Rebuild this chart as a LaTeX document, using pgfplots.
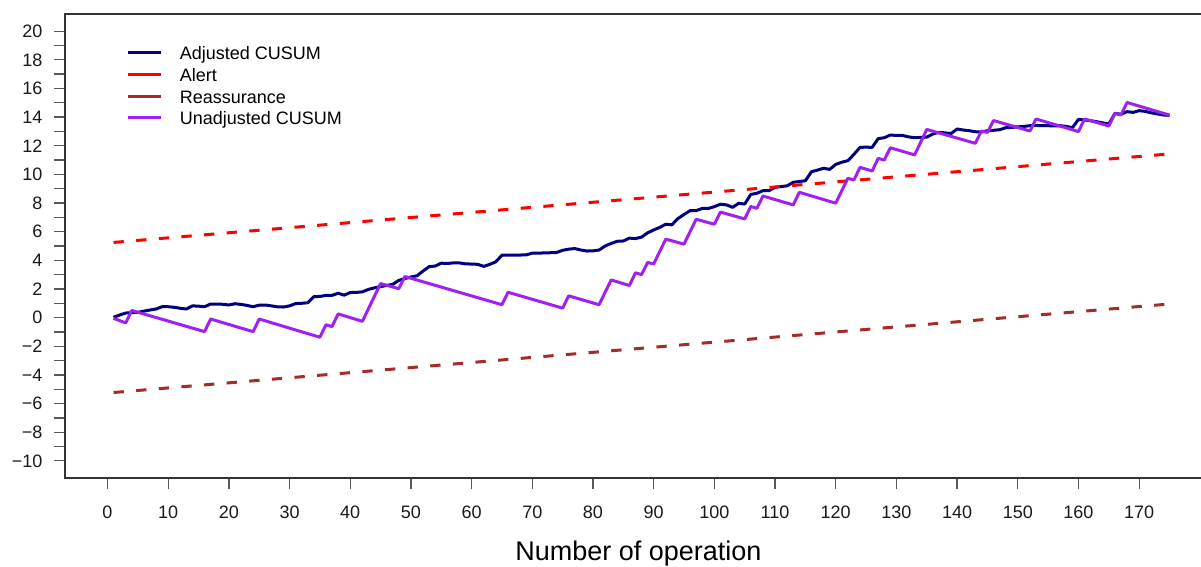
\documentclass[border=0pt]{standalone}
\usepackage{fontspec}
\setmainfont{Liberation Sans}
\usepackage{pgfplots}
\pgfplotsset{compat=1.18}
\definecolor{cnavy}{RGB}{0,0,128}
\definecolor{cred}{RGB}{255,0,0}
\definecolor{cbrown}{RGB}{165,42,42}
\definecolor{cpurple}{RGB}{160,32,240}
\begin{document}
\begin{tikzpicture}
\path[use as bounding box] (-65pt,-88pt) rectangle (1136pt,478pt);
\begin{axis}[
  scale only axis, width=1147pt, height=464pt,
  at={(0pt,0pt)}, anchor=south west,
  xmin=-7, xmax=182, ymin=-11.2, ymax=21.2,
  axis line style={black!80, line width=1.2pt},
  tick align=outside, tick pos=left,
  major tick length=11pt, minor tick length=11pt,
  every tick/.style={black!65, line width=1.3pt},
  xtick={0,10,20,30,40,50,60,70,80,90,100,110,120,130,140,150,160,170},
  xticklabels={0,10,20,30,40,50,60,70,80,90,100,110,120,130,140,150,160,170},
  ytick={-10,-8,-6,-4,-2,0,2,4,6,8,10,12,14,16,18,20},
  minor ytick={-9,-7,-5,-3,-1,1,3,5,7,9,11,13,15,17,19},
  yticklabels={−10,−8,−6,−4,−2,0,2,4,6,8,10,12,14,16,18,20},
  xticklabel style={font=\fontsize{18}{20}\selectfont, text=black!90, yshift=-13pt},
  yticklabel style={font=\fontsize{18}{20}\selectfont, text=black!90, xshift=-8pt},
  xlabel={Number of operation},
  xlabel style={font=\fontsize{27}{30}\selectfont, at={(axis description cs:0.5,0)}, anchor=base, yshift=-82pt, inner sep=0pt},
  legend style={at={(axis description cs:0.054,0.94)}, anchor=north west, draw=none, fill=none,
    inner sep=0pt, outer sep=0pt, row sep=0pt, column sep=17pt,
    font=\fontsize{18}{20}\selectfont,
    nodes={inner xsep=0pt, inner ysep=3.85pt, text height=14pt, text depth=0pt}},
  legend cell align=left,
  legend image code/.code={\draw[#1,solid] (0pt,0pt) -- (33pt,0pt);},
]
\addplot[cnavy, line width=3pt, line join=round] coordinates {
(1,0.02)(2,0.18)(3,0.32)(5,0.37)(6,0.45)(7,0.53)(8,0.6)(9,0.76)(10,0.76)
(11,0.72)(12,0.65)(13,0.6)(14,0.82)(15,0.8)(16,0.76)(17,0.95)(18,0.95)(19,0.93)(20,0.88)
(21,0.97)(22,0.92)(23,0.85)(24,0.76)(25,0.87)(26,0.88)(27,0.82)(28,0.75)(29,0.74)(30,0.82)
(31,0.98)(32,1.0)(33,1.04)(34,1.46)(35,1.48)(36,1.55)(37,1.55)(38,1.7)(39,1.57)(40,1.75)
(41,1.76)(42,1.8)(43,1.97)(44,2.08)(45,2.16)(46,2.25)(47,2.32)(48,2.6)(49,2.72)(50,2.84)
(51,2.92)(52,3.25)(53,3.56)(54,3.6)(55,3.8)(56,3.78)(57,3.82)(58,3.82)(59,3.75)(60,3.74)
(61,3.72)(62,3.58)(63,3.72)(64,3.9)(65,4.36)(66,4.37)(67,4.37)(68,4.37)(69,4.38)(70,4.5)
(71,4.5)(72,4.52)(73,4.53)(74,4.55)(75,4.7)(76,4.78)(77,4.82)(78,4.72)(79,4.65)(80,4.66)
(81,4.72)(82,5.0)(83,5.18)(84,5.33)(85,5.35)(86,5.55)(87,5.52)(88,5.62)(89,5.92)(90,6.12)
(91,6.3)(92,6.52)(93,6.48)(94,6.92)(95,7.2)(96,7.47)(97,7.47)(98,7.62)(99,7.62)(100,7.75)
(101,7.92)(102,7.87)(103,7.7)(104,7.98)(105,7.93)(106,8.6)(107,8.68)(108,8.86)(109,8.86)(110,9.1)
(111,9.15)(112,9.2)(113,9.45)(114,9.5)(115,9.56)(116,10.19)(117,10.3)(118,10.43)(119,10.35)(120,10.7)
(121,10.85)(122,10.96)(123,11.4)(124,11.89)(125,11.9)(126,11.89)(127,12.5)(128,12.56)(129,12.75)(130,12.72)
(131,12.72)(132,12.62)(133,12.56)(134,12.58)(135,12.6)(136,12.82)(137,12.94)(138,12.9)(139,12.85)(140,13.17)
(141,13.1)(142,13.05)(143,12.98)(144,12.96)(145,13.05)(146,13.08)(147,13.12)(148,13.26)(149,13.28)(150,13.32)
(151,13.35)(152,13.4)(153,13.42)(154,13.4)(155,13.4)(156,13.38)(157,13.4)(158,13.35)(159,13.26)(160,13.84)
(161,13.8)(162,13.75)(163,13.68)(164,13.6)(165,13.52)(166,14.26)(167,14.2)(168,14.38)(169,14.33)(170,14.45)
(171,14.4)(172,14.3)(173,14.22)(174,14.15)(175,14.12)
};
\addlegendentry{Adjusted CUSUM}
\addplot[cred, line width=3pt, dash pattern=on 10.3pt off 12.4pt] coordinates {(1,5.25)(175,11.43)};
\addlegendentry{Alert}
\addplot[cbrown, line width=3pt, dash pattern=on 10.3pt off 12.4pt] coordinates {(1,-5.23)(175,0.95)};
\addlegendentry{Reassurance}
\addplot[cpurple, line width=3pt, line join=round] coordinates {
(1,-0.05)(3,-0.37)(4,0.5)(16,-0.98)(17,-0.1)(24,-0.98)(25,-0.1)(35,-1.37)(36,-0.5)(37,-0.63)
(38,0.26)(42,-0.26)(45,2.38)(48,2.02)(49,2.87)(65,0.9)(66,1.77)(75,0.66)(76,1.52)(81,0.9)
(83,2.63)(86,2.24)(87,3.13)(88,3.0)(89,3.85)(90,3.75)(92,5.48)(95,5.13)(97,6.87)(100,6.52)
(101,7.37)(105,6.89)(106,7.76)(107,7.63)(108,8.49)(113,7.87)(114,8.75)(120,7.99)(122,9.73)(123,9.61)
(124,10.49)(126,10.24)(127,11.12)(128,11.0)(129,11.86)(133,11.36)(135,13.14)(143,12.17)(144,13.03)(145,12.93)
(146,13.76)(152,13.03)(153,13.87)(160,12.99)(161,13.87)(165,13.38)(166,14.26)(167,14.15)(168,15.02)(175,14.14)
};
\addlegendentry{Unadjusted CUSUM}
\end{axis}
\end{tikzpicture}
\end{document}
